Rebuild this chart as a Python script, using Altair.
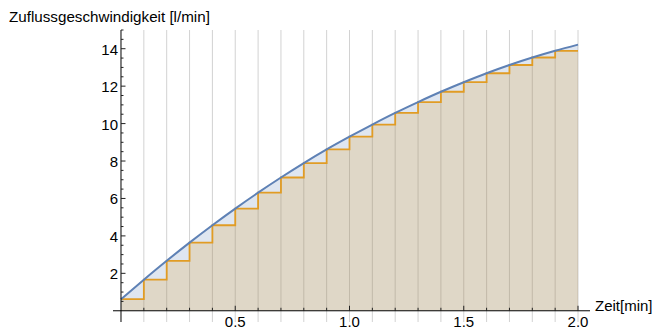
import altair as alt
import pandas as pd

# ---- data ----
times = [0.0, 0.1, 0.2, 0.3, 0.4, 0.5, 0.6, 0.7, 0.8, 0.9, 1.0,
         1.1, 1.2, 1.3, 1.4, 1.5, 1.6, 1.7, 1.8, 1.9, 2.0]
rate = [0.62, 1.66, 2.67, 3.64, 4.57, 5.46, 6.31, 7.12, 7.89, 8.62, 9.30,
        9.95, 10.57, 11.15, 11.70, 12.21, 12.69, 13.13, 13.53, 13.89, 14.22]
grid_x = [0.1, 0.2, 0.3, 0.4, 0.5, 0.6, 0.7, 0.8, 0.9, 1.0,
          1.1, 1.2, 1.3, 1.4, 1.5, 1.6, 1.7, 1.8, 1.9, 2.0]
x_major = [0.5, 1.0, 1.5, 2.0]
y_major = [2, 4, 6, 8, 10, 12, 14]
y_minor = [0.5, 1, 1.5, 2.5, 3, 3.5, 4.5, 5, 5.5, 6.5, 7, 7.5, 8.5, 9, 9.5,
           10.5, 11, 11.5, 12.5, 13, 13.5, 14.5, 15]
y_title = "Zuflussgeschwindigkeit [l/min]"
x_title = "Zeit[min]"

# ---- layout ----
W, H = 477, 292
XMIN, XMAX = -0.035, 2.0525
YMIN, YMAX = -0.6, 15.0
FONT = "Liberation Sans"
px_x = W / (XMAX - XMIN)
px_y = H / (YMAX - YMIN)
y0_px = (YMAX - 0) * px_y

xs = alt.Scale(domain=[XMIN, XMAX], nice=False, zero=False)
ys = alt.Scale(domain=[YMIN, YMAX], nice=False, zero=False)

curve_df = pd.DataFrame({"t": times, "v": rate})
step_df = pd.DataFrame({"t": times, "v": rate[:-1] + [rate[-2]]})
grid_df = pd.DataFrame({"t": grid_x})

grid = alt.Chart(grid_df).mark_rule(color="#d2d2d2", strokeWidth=1).encode(
    x=alt.X("t:Q", scale=xs, axis=None))

curve_area = alt.Chart(curve_df).mark_area(
    color="#5E81B5", opacity=0.2, interpolate="monotone").encode(
    x=alt.X("t:Q", scale=xs, axis=None),
    y=alt.Y("v:Q", scale=ys, axis=None))

step_area = alt.Chart(step_df).mark_area(
    color="#E19C24", opacity=0.2, interpolate="step-after").encode(
    x=alt.X("t:Q", scale=xs, axis=None),
    y=alt.Y("v:Q", scale=ys, axis=None))

step_line = alt.Chart(step_df).mark_line(
    color="#E19C24", strokeWidth=1.8, interpolate="step-after").encode(
    x=alt.X("t:Q", scale=xs, axis=None),
    y=alt.Y("v:Q", scale=ys, axis=None))

curve_line = alt.Chart(curve_df).mark_line(
    color="#5E81B5", strokeWidth=2, interpolate="monotone").encode(
    x=alt.X("t:Q", scale=xs, axis=None),
    y=alt.Y("v:Q", scale=ys, axis=None))

# axis lines through the origin
zero_df = pd.DataFrame({"z": [0.0]})
x_axis_line = alt.Chart(zero_df).mark_rule(color="black", strokeWidth=1).encode(
    y=alt.Y("z:Q", scale=ys, axis=None))
y_axis_line = alt.Chart(zero_df).mark_rule(color="black", strokeWidth=1).encode(
    x=alt.X("z:Q", scale=xs, axis=None))

# axis ticks (pointing inward)
xt_df = pd.DataFrame({"t": grid_x})
xt_df["y1"] = [5.0 / px_y if t in x_major else 3.0 / px_y for t in grid_x]
xt_df["y0"] = 0.0
yt_df = pd.DataFrame({"v": y_major + y_minor})
yt_df["x1"] = [4.5 / px_x] * len(y_major) + [2.5 / px_x] * len(y_minor)
yt_df["x0"] = 0.0

x_ticks = alt.Chart(xt_df).mark_rule(color="#222222", strokeWidth=1).encode(
    x=alt.X("t:Q", scale=xs, axis=None),
    y=alt.Y("y0:Q", scale=ys, axis=None), y2="y1:Q")
y_ticks = alt.Chart(yt_df).mark_rule(color="#222222", strokeWidth=1).encode(
    y=alt.Y("v:Q", scale=ys, axis=None),
    x=alt.X("x0:Q", scale=xs, axis=None), x2="x1:Q")

# tick labels
xl_df = pd.DataFrame({"t": x_major})
xl_df["y"] = 0.0
x_labels = alt.Chart(xl_df).mark_text(
    align="center", baseline="top", dy=4, font=FONT, fontSize=15,
    color="black").encode(
    x=alt.X("t:Q", scale=xs, axis=None),
    y=alt.Y("y:Q", scale=ys, axis=None),
    text=alt.Text("t:Q", format=".1f"))
yl_df = pd.DataFrame({"v": y_major})
yl_df["x"] = 0.0
y_labels = alt.Chart(yl_df).mark_text(
    align="right", baseline="middle", dx=-3, dy=1, font=FONT, fontSize=15,
    color="black").encode(
    x=alt.X("x:Q", scale=xs, axis=None),
    y=alt.Y("v:Q", scale=ys, axis=None),
    text=alt.Text("v:Q"))

ytitle = alt.Chart(pd.DataFrame({"s": [y_title]})).mark_text(
    align="left", baseline="alphabetic", font=FONT, fontSize=15.2,
    color="black").encode(x=alt.value(-104), y=alt.value(-8), text="s:N")
xtitle = alt.Chart(pd.DataFrame({"s": [x_title]})).mark_text(
    align="left", baseline="alphabetic", font=FONT, fontSize=15,
    color="black").encode(x=alt.value(482), y=alt.value(y0_px), text="s:N")

chart = alt.layer(grid, curve_area, step_area, step_line, curve_line,
                  x_axis_line, y_axis_line, x_ticks, y_ticks,
                  x_labels, y_labels, ytitle, xtitle).properties(
    width=W, height=H,
    autosize=alt.AutoSizeParams(type="none"),
    padding={"left": 105, "top": 22, "right": 63, "bottom": 7},
).configure_view(stroke=None)

chart.save("out.html", embed_options={"renderer": "svg", "actions": False})
